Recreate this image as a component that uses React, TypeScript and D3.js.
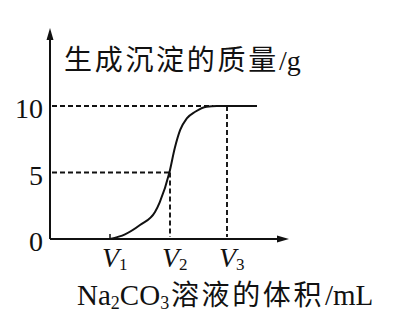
import React from "react";
import * as d3 from "d3";

// Data (arbitrary x units: V1=1, V2=2, V3=2.95)
const curveX = [1, 1.25, 1.5, 1.75, 1.83, 1.99, 2.08, 2.17, 2.28, 2.42, 2.61, 2.78, 3.45];
const curveY = [0, 0.35, 1.05, 2.03, 2.78, 5.0, 6.84, 8.2, 9.07, 9.57, 9.95, 10, 10];
const yTicks = [0, 5, 10];
const vLabels = ["1", "2", "3"];
const vValues = [1, 2, 2.95];
const yTitleCJK = "生成沉淀的质量";
const yTitleUnit = "/g";

const W = 418;
const H = 325;
const ink = "#111";
const latin = "'Liberation Serif', 'Times New Roman', 'Noto Sans CJK SC', serif";

export default function App() {
  const x = d3.scaleLinear().domain([0, 4]).range([50, 290]);
  const y = d3.scaleLinear().domain([0, 10]).range([239, 106]);
  const pts: [number, number][] = curveX.map((v, i) => [v, curveY[i]]);
  const line = d3
    .line<[number, number]>()
    .x((d) => x(d[0]))
    .y((d) => y(d[1]))
    .curve(d3.curveMonotoneX);

  const x0 = x(0);
  const y0 = y(0);
  const yTop = 28;
  const xEnd = 289;

  return (
    <svg
      width={W}
      height={H}
      style={{ position: "absolute", left: 0, top: 0, background: "#fff" }}
      fontFamily={latin}
    >
      <rect width={W} height={H} fill="#fff" />
      {/* axes */}
      <line x1={x0} y1={y0} x2={x0} y2={yTop + 8} stroke={ink} strokeWidth={2} />
      <path d={`M${x0},${yTop} L${x0 - 3.5},${yTop + 12} L${x0 + 3.5},${yTop + 12} Z`} fill={ink} />
      <line x1={x0} y1={y0} x2={xEnd - 8} y2={y0} stroke={ink} strokeWidth={2} />
      <path d={`M${xEnd},${y0} L${xEnd - 12},${y0 - 3.5} L${xEnd - 12},${y0 + 3.5} Z`} fill={ink} />

      {/* dashed guides */}
      <g stroke={ink} strokeWidth={1.9} strokeDasharray="5,3" fill="none">
        <line x1={x0 + 2} y1={y(10)} x2={x(2.72)} y2={y(10)} />
        <line x1={x0 + 2} y1={y(5)} x2={x(2)} y2={y(5)} />
        <line x1={x(2)} y1={y(5)} x2={x(2)} y2={y0 - 2} />
        <line x1={x(2.95)} y1={y(10)} x2={x(2.95)} y2={y0 - 2} />
      </g>

      {/* V1 tick */}
      <line x1={x(1)} y1={y0} x2={x(1)} y2={y0 - 5} stroke={ink} strokeWidth={1.5} />

      {/* curve */}
      <path d={line(pts) || ""} fill="none" stroke={ink} strokeWidth={2} />

      {/* y tick labels */}
      {yTicks.map((t) => (
        <text key={t} x={43} y={y(t) + 12} textAnchor="end" fontSize={28} fill={ink}>
          {t}
        </text>
      ))}

      {/* V labels */}
      {vValues.map((v, i) => (
        <text key={i} x={x(v) - 8} y={267} fontSize={28} fill={ink}>
          <tspan fontStyle="italic">V</tspan>
          <tspan fontSize={17} dy={3}>{vLabels[i]}</tspan>
        </text>
      ))}

      {/* y title */}
      <text y={70} fontSize={28} fill={ink}>
        <tspan x={64} letterSpacing={2.7}>{yTitleCJK}</tspan>
        <tspan x={279}>{yTitleUnit}</tspan>
      </text>

      {/* x title */}
      <text y={305} fontSize={29} fill={ink}>
        <tspan x={77}>Na</tspan>
        <tspan fontSize={18} dy={4}>2</tspan>
        <tspan dy={-4}>CO</tspan>
        <tspan fontSize={18} dy={4}>3</tspan>
        <tspan x={171} dy={-4} fontSize={28} letterSpacing={2.6}>溶液的体积</tspan>
        <tspan x={325}>/mL</tspan>
      </text>
    </svg>
  );
}
